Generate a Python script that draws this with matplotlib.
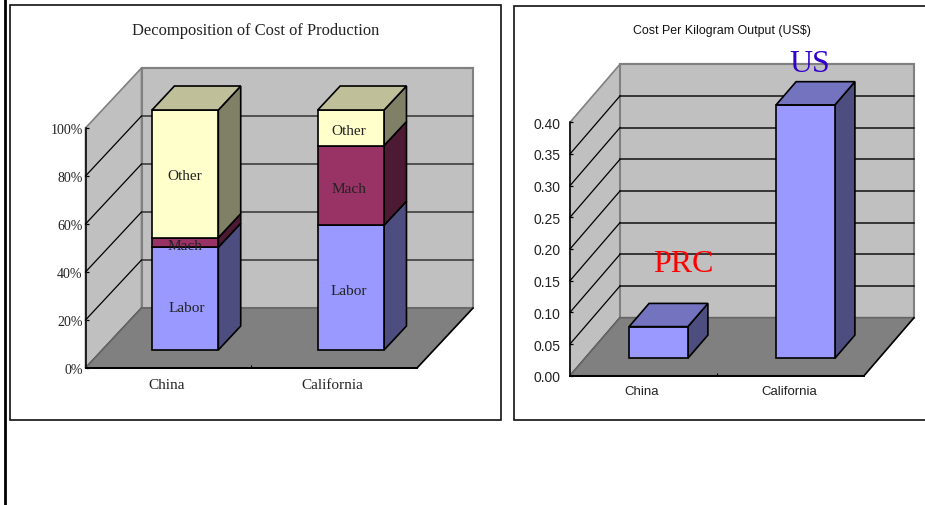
import matplotlib
matplotlib.use("Agg")
import matplotlib.pyplot as plt
from matplotlib.patches import Polygon, Rectangle

W, H = 925, 506

categories = ["China", "California"]

# left chart, shares of cost
labor = [42.8, 52.0]
mach = [4.0, 33.2]
other = [53.2, 14.8]
share_names = ["Labor", "Mach", "Other"]
share_ticks = [0, 20, 40, 60, 80, 100]

# right chart, US$ per kg
cost = [0.05, 0.40]
cost_ticks = [0.00, 0.05, 0.10, 0.15, 0.20, 0.25, 0.30, 0.35, 0.40]
cost_names = ["PRC", "US"]

BLUE = ("#9999FF", "#4D4D80", "#7373BF")
PURPLE = ("#993366", "#4D1A33", "#73264D")
CREAM = ("#FFFFCC", "#808066", "#BFBF99")

SERIF = ["Liberation Serif", "DejaVu Serif"]
SANS = ["Liberation Sans", "DejaVu Sans"]


def px_axes(fig, x0, y0, x1, y1):
    # front plane of the fake 3d box, given in pixels of the picture
    return fig.add_axes([x0 / W, 1 - (y1 + 1) / H, (x1 - x0) / W, (y1 - y0) / H])


def poly(ax, pts, face, edge="black", lw=1.2, z=2):
    ax.add_patch(Polygon(pts, closed=True, facecolor=face, edgecolor=edge,
                         linewidth=lw, clip_on=False, zorder=z, joinstyle="miter"))


def box_room(ax, ticks, ymax, dx, dy, grid_color):
    n = len(categories)
    poly(ax, [(0, 0), (dx, dy), (dx, ymax + dy), (0, ymax)], "#C0C0C0", "#808080", 1.2, 1)
    poly(ax, [(dx, 0 + dy), (n + dx, dy), (n + dx, ymax + dy), (dx, ymax + dy)],
         "#C0C0C0", "#808080", 1.5, 1)
    for t in ticks[1:-1]:
        ax.plot([dx, n + dx], [t + dy, t + dy], color=grid_color, lw=1.1,
                clip_on=False, zorder=1.2)
    for t in ticks[:-1]:
        ax.plot([0, dx], [t, t + dy], color="black", lw=0.9, clip_on=False, zorder=1.2)
    ax.plot([dx, n + dx], [ticks[-1] + dy] * 2, color="#808080", lw=1.5,
            clip_on=False, zorder=1.2)
    poly(ax, [(0, 0), (n, 0), (n + dx, dy), (dx, dy)], "#808080", "#666666", 1.2, 1.5)
    ax.plot([n, n + dx], [0, dy], color="black", lw=1.1, clip_on=False, zorder=1.6)


def bar_segment(ax, left, bottom, height, colors, dx, dy, top_face=False):
    # bar sits from 0.3 to 0.7 of the depth, 0.4 of a category wide
    x0 = left + 0.3 + 0.3 * dx
    x1 = x0 + 0.4
    y0 = bottom + 0.3 * dy
    y1 = y0 + height
    ddx, ddy = 0.4 * dx, 0.4 * dy
    poly(ax, [(x1, y0), (x1 + ddx, y0 + ddy), (x1 + ddx, y1 + ddy), (x1, y1)], colors[1])
    poly(ax, [(x0, y0), (x1, y0), (x1, y1), (x0, y1)], colors[0])
    if top_face:
        poly(ax, [(x0, y1), (x1, y1), (x1 + ddx, y1 + ddy), (x0 + ddx, y1 + ddy)], colors[2])
    return (x0 + x1) / 2, (y0 + y1) / 2, y1


def style_axes(ax, ticks, ymax, fmt, font, size, tsize, pad, ypad):
    ax.set_xlim(0, len(categories))
    ax.set_ylim(0, ymax)
    ax.patch.set_visible(False)
    for s in ["top", "right"]:
        ax.spines[s].set_visible(False)
    for s in ["left", "bottom"]:
        ax.spines[s].set_linewidth(1.1)
        ax.spines[s].set_zorder(1.8)
    ax.spines["bottom"].set_linewidth(1.4)
    ax.set_yticks(ticks)
    ax.set_yticklabels([fmt % t for t in ticks], family=font, fontsize=size, color="#222222")
    ax.set_xticks([0.49, 1.49])
    ax.set_xticklabels(categories, family=font, fontsize=tsize, color="#222222")
    ax.set_xticks([1], minor=True)
    ax.tick_params(axis="x", which="major", length=0, pad=pad)
    ax.tick_params(axis="x", which="minor", length=2.5, direction="in", width=0.8)
    ax.tick_params(axis="y", length=2.5, direction="in", width=0.9, pad=ypad)


fig = plt.figure(figsize=(W / 100, H / 100), dpi=100)

bg = fig.add_axes([0, 0, 1, 1], zorder=-1)
bg.set_xlim(0, W)
bg.set_ylim(H, 0)
bg.axis("off")
bg.add_patch(Rectangle((9.5, 6), 491, 415, fc="white", ec="#111111", lw=1.2))
bg.add_patch(Rectangle((514, 6.5), 430, 414, fc="white", ec="#111111", lw=1.2))
bg.plot([5.2, 5.2], [0, H], color="black", lw=2.0)
bg.text(256, 31, "Decomposition of Cost of Production", family=SERIF, fontsize=11.9,
        ha="center", va="center", color="#222222")
bg.text(722, 31, "Cost Per Kilogram Output (US$)", family=SANS, fontsize=8.9,
        ha="center", va="center", color="#111111")

# left chart
ax1 = px_axes(fig, 85.5, 128, 417, 368)
dx1, dy1 = 56 / 165.75, 25.0
style_axes(ax1, share_ticks, 100, "%d%%", SERIF, 10, 11, 7.5, 2)
box_room(ax1, share_ticks, 100, dx1, dy1, "#333333")
label_nudge = {(0, 0): (2, -9), (0, 1): (0, -3), (0, 2): (0, -2),
               (1, 0): (-2, -3), (1, 1): (-2, -3), (1, 2): (-2, -3)}
for i in range(len(categories)):
    bottom = 0
    stack = [labor[i], mach[i], other[i]]
    for j, (val, col) in enumerate(zip(stack, [BLUE, PURPLE, CREAM])):
        cx, cy, _ = bar_segment(ax1, i, bottom, val, col, dx1, dy1, top_face=j == 2)
        off = label_nudge[(i, j)]
        ax1.annotate(share_names[j], (cx, cy), xytext=off, textcoords="offset pixels",
                     ha="center", va="center", family=SERIF, fontsize=11,
                     color="#222222", zorder=5, annotation_clip=False)
        bottom += val

# right chart
ax2 = px_axes(fig, 570, 122.3, 864, 375.7)
dx2, dy2 = 50 / 147, 0.0916
style_axes(ax2, cost_ticks, 0.40, "%.2f", SANS, 10, 9.5, 7, 7)
box_room(ax2, cost_ticks, 0.40, dx2, dy2, "#111111")
name_colors = ["#FF0000", "#3300CC"]
name_pos = [(683, 265), (810, 65)]
for i, val in enumerate(cost):
    cx, cy, top = bar_segment(ax2, i, 0, val, BLUE, dx2, dy2, top_face=True)
    bg_x, bg_y = name_pos[i]
    fig.text(bg_x / W, 1 - bg_y / H, cost_names[i], family=SERIF, fontsize=23,
             color=name_colors[i], ha="center", va="center", zorder=6)

fig.savefig("out.png", dpi=100)
